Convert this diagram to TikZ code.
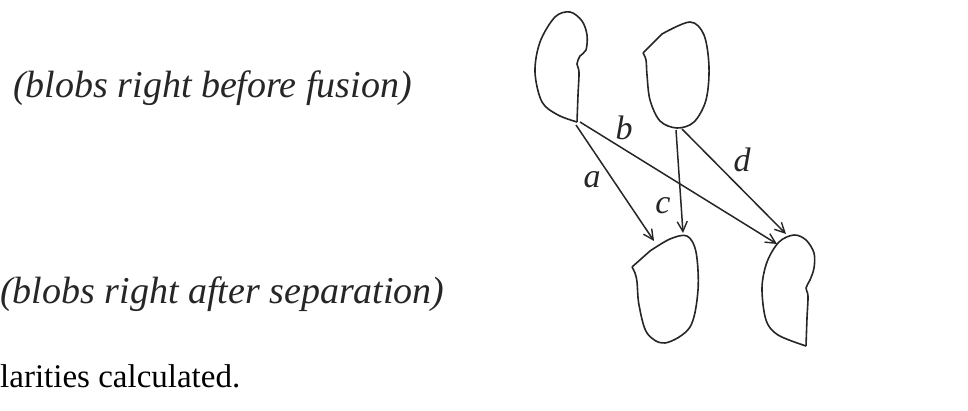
\documentclass[tikz,border=0pt]{standalone}
\usepackage{fontspec}
\setmainfont{Liberation Serif}
\usetikzlibrary{arrows.meta}
\begin{document}
\begin{tikzpicture}[x=1pt,y=-1pt,
  blob/.style={draw=black!85,line width=1.6pt,line join=round},
  conn/.style={draw=black!85,line width=1.5pt,-{Straight Barb[length=10pt,width=10pt,line width=1.4pt]}},
  lbl/.style={font=\fontsize{34}{38}\selectfont\itshape,inner sep=0pt,text=black!85},
  captext/.style={font=\fontsize{38}{42}\selectfont\itshape,inner sep=0pt,anchor=base west,text=black!85},
  bodytext/.style={font=\fontsize{33}{36}\selectfont,inner sep=0pt,anchor=base west}]
\useasboundingbox[fill=white] (0,0) rectangle (968,411);
% captions
\node[captext] (t1) at (13,98) {(blobs right before fusion)};
\node[captext] (t2) at (0,304) {(blobs right after separation)};
\node[bodytext] (t3) at (0,387) {larities calculated.};
% blob 1 (top left)
\draw[blob] plot[smooth,tension=0.55] coordinates {(577,122) (578,95) (579,72) (577,64) (580,56) (586,50) (587,35) (582,21) (570,12) (555,17) (540,42) (535,72) (542,102) (558,115) (577,122)};
% blob 2 (top right)
\draw[blob] (643,53) -- (662,34) plot[smooth,tension=0.55] coordinates {(662,34) (690,22) (704,35) (709,67) (706,100) (694,122) (677,128) (660,121) (650,100) (647,75) (646,60) (643,53)};
% blob 3 (bottom middle)
\draw[blob] (632,267) -- (650,251) plot[smooth,tension=0.55] coordinates {(650,251) (670,239) (687,236) (696,252) (698,290) (690,327) (665,343) (647,333) (639,305) (637,282) (635,273) (632,267)};
% blob 4 (bottom right)
\draw[blob] plot[smooth,tension=0.55] coordinates {(806,346) (807,318) (808,296) (806,288) (810,280) (814,268) (814,253) (806,240) (794,235) (779,242) (767,262) (762,288) (766,320) (778,335) (806,346)};
% connector end points
\coordinate (s1) at (576,125);
\coordinate (s2) at (580,122);
\coordinate (s3) at (676,130);
\coordinate (s4) at (682,129);
\coordinate (ea) at (654,241);
\coordinate (eb) at (777,244);
\coordinate (ec) at (683,233);
\coordinate (ed) at (786,234);
\draw[conn] (s1) -- (ea);
\draw[conn] (s2) -- (eb);
\draw[conn] (s3) -- (ec);
\draw[conn] (s4) -- (ed);
\node[lbl] (la) at (592,180) {a};
\node[lbl] (lb) at (624,128) {b};
\node[lbl] (lc) at (663,206) {c};
\node[lbl] (ld) at (742,160) {d};
\end{tikzpicture}
\end{document}
